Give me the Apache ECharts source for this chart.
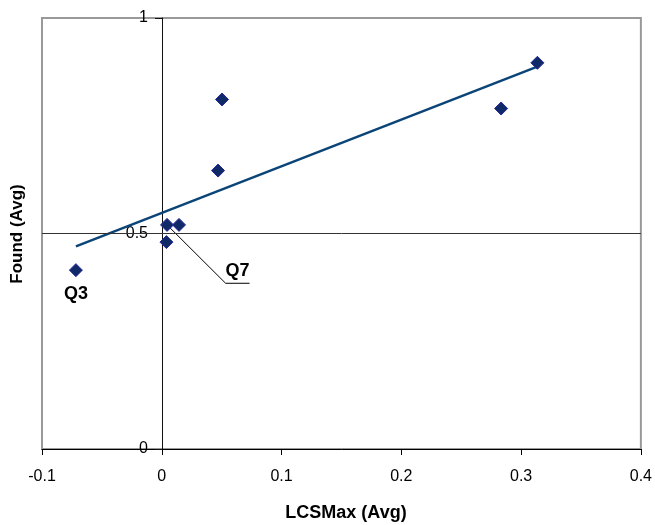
<!DOCTYPE html>
<html>
<head>
<meta charset="utf-8">
<script src="https://cdn.jsdelivr.net/npm/echarts@6/dist/echarts.min.js"></script>
<style>
html,body{margin:0;padding:0;background:#fff;}
#chart{width:655px;height:525px;}
</style>
</head>
<body>
<div id="chart"></div>
<script>
// Data
var lcsMax = [-0.0717, 0.0044, 0.0144, 0.0039, 0.0503, 0.0470, 0.3136, 0.2833];
var found  = [0.415, 0.520, 0.520, 0.480, 0.811, 0.646, 0.896, 0.790];
var pointNames = ['Q3', 'Q7', '', '', '', '', '', ''];
// Linear trendline endpoints (as drawn in the reference)
var trendX = [-0.0717, 0.3136];
var trendY = [0.470, 0.887];
// Q7 leader line (data coordinates)
var q7LeaderX = [0.0044, 0.0533, 0.0733];
var q7LeaderY = [0.520, 0.3845, 0.3845];
var q7LabelPos = [0.0633, 0.3845];
var xTicks = { min: -0.1, max: 0.4, interval: 0.1 };
var yTicks = { min: 0, max: 1, interval: 0.5 };

var FONT = 'Liberation Sans, Arial, sans-serif';
var chart = echarts.init(document.getElementById('chart'), null, { renderer: 'canvas' });

var scatterData = lcsMax.map(function (x, i) { return [x, found[i]]; });
var trendData = trendX.map(function (x, i) { return [x, trendY[i]]; });
var leaderData = q7LeaderX.map(function (x, i) { return [x, q7LeaderY[i]]; });

var gridLeft = 42, gridRight = 13;
var plotW = 655 - gridLeft - gridRight;
// y axis crosses the x axis at x = 0
var yAxisOffset = -plotW * (0 - xTicks.min) / (xTicks.max - xTicks.min);

chart.setOption({
  animation: false,
  backgroundColor: '#ffffff',
  grid: {
    left: gridLeft, right: gridRight, top: 18, bottom: 76,
    show: true, borderColor: '#999999', borderWidth: 2, backgroundColor: 'transparent'
  },
  xAxis: {
    type: 'value', min: xTicks.min, max: xTicks.max, interval: xTicks.interval,
    axisLine: { show: true, onZero: false, lineStyle: { color: '#000', width: 1 } },
    axisTick: { show: true, inside: false, length: 6, lineStyle: { color: '#000' } },
    axisLabel: { margin: 20, fontFamily: FONT, fontSize: 16, color: '#000',
      formatter: function (v) { return String(Math.round(v * 10) / 10); } },
    splitLine: { show: false }
  },
  yAxis: {
    type: 'value', min: yTicks.min, max: yTicks.max, interval: yTicks.interval,
    position: 'left', offset: yAxisOffset,
    axisLine: { show: true, onZero: false, lineStyle: { color: '#111', width: 1 } },
    axisTick: { show: true, inside: false, length: 7, lineStyle: { color: '#111' } },
    axisLabel: { margin: 14, fontFamily: FONT, fontSize: 16, color: '#000',
      formatter: function (v) { return String(Math.round(v * 10) / 10); } },
    splitLine: { show: false }
  },
  graphic: [
    {
      type: 'text', x: 17, y: 234, rotation: Math.PI / 2,
      style: { text: 'Found (Avg)', font: 'bold 17px ' + FONT, fill: '#000',
        textAlign: 'center', textVerticalAlign: 'middle' }
    },
    {
      type: 'text', x: 346, y: 513,
      style: { text: 'LCSMax (Avg)', font: 'bold 18px ' + FONT, fill: '#000',
        textAlign: 'center', textVerticalAlign: 'middle' }
    }
  ],
  series: [
    {
      type: 'line', data: trendData, showSymbol: false, silent: true,
      lineStyle: { color: '#0b4477', width: 2.5 }, z: 2,
      markLine: {
        silent: true, symbol: ['none', 'none'], label: { show: false },
        lineStyle: { color: '#333', width: 1, type: 'solid' },
        data: [{ yAxis: 0.5 }]
      }
    },
    {
      type: 'line', data: leaderData, showSymbol: false, silent: true,
      lineStyle: { color: '#000', width: 1 }, z: 3
    },
    {
      type: 'scatter', data: [q7LabelPos], symbolSize: 0, silent: true, z: 4,
      itemStyle: { opacity: 1 },
      label: { show: true, position: 'top', distance: 3, formatter: 'Q7',
        fontFamily: FONT, fontWeight: 'bold', fontSize: 18, color: '#000' }
    },
    {
      type: 'scatter', data: scatterData, symbol: 'diamond', symbolSize: 13, z: 5,
      itemStyle: { color: '#0f2a66', borderColor: '#26269a', borderWidth: 1, opacity: 1 },
      label: {
        show: true, position: 'bottom', distance: 8,
        formatter: function (p) { return p.dataIndex === 0 ? pointNames[0] : ''; },
        fontFamily: FONT, fontWeight: 'bold', fontSize: 18, color: '#000'
      }
    }
  ]
});
</script>
</body>
</html>
